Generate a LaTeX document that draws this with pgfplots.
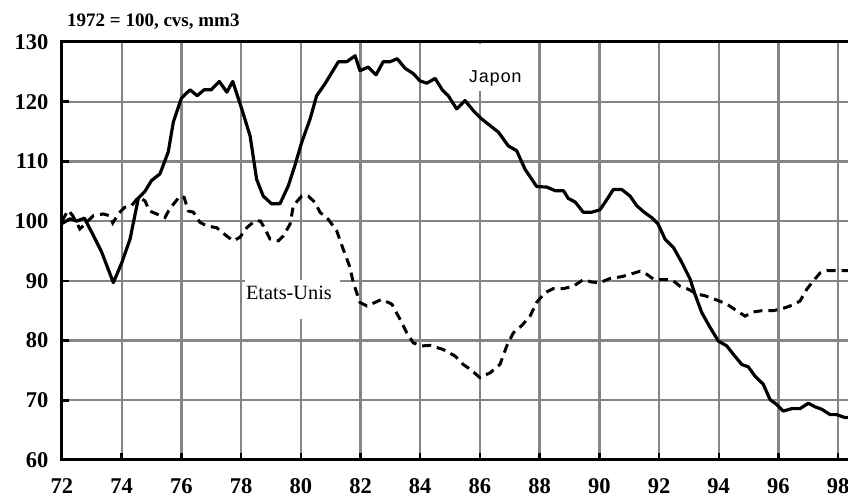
\documentclass[border=0pt]{standalone}
\usepackage{fontspec}
\setmainfont{Liberation Serif}
\newfontfamily\monofont{Liberation Mono}
\usepackage{pgfplots}
\pgfplotsset{compat=1.18}

\begin{document}
\begin{tikzpicture}
\begin{axis}[
    name=ax,
    scale only axis,
    width=786pt, height=418pt,
    xmin=72, xmax=98.33,
    ymin=60, ymax=130,
    xtick={72,74,...,98},
    ytick={60,70,...,130},
    xtick pos=bottom, ytick pos=left,
    tick align=inside,
    major tick length=7pt,
    tick style={black, line width=2.5pt},
    grid=major,
    major grid style={black!48, line width=2.4pt},
    axis line style={draw=none},
    clip=false,
    /pgf/number format/assume math mode=true,
    ticklabel style={font=\bfseries\fontsize{22.5}{22.5}\selectfont},
    yticklabel style={xshift=-10pt},
    xticklabel style={yshift=-15.5pt},
]
% Japon
\addplot[black, line width=3.2pt, line join=round] coordinates {
(72.0,99.6) (72.27,100.4) (72.49,100.0) (72.75,100.5) (73.0,98.1) (73.33,94.8)
(73.72,89.7) (74.0,93.0) (74.28,97.0) (74.56,103.9) (74.78,105.0) (75.0,106.8)
(75.28,107.9) (75.56,111.6) (75.73,116.6) (76.0,120.6) (76.29,122.0) (76.53,121.0)
(76.76,122.0) (77.0,122.0) (77.27,123.4) (77.52,121.6) (77.72,123.4) (78.02,118.8)
(78.3,114.3) (78.52,107.0) (78.74,104.2) (79.02,102.9) (79.3,102.9) (79.58,105.9)
(79.8,109.3) (80.03,113.2) (80.31,117.1) (80.53,121.0) (80.81,123.0) (81.04,124.9)
(81.26,126.7) (81.54,126.7) (81.82,127.7) (81.98,125.2) (82.26,125.8) (82.52,124.5)
(82.76,126.7) (82.99,126.7) (83.23,127.2) (83.49,125.6) (83.77,124.7) (83.99,123.5)
(84.22,123.1) (84.5,123.9) (84.75,121.9) (84.94,121.0) (85.22,118.8) (85.5,120.2)
(85.78,118.5) (86.06,117.1) (86.34,116.0) (86.62,114.9) (86.95,112.6) (87.23,111.8)
(87.51,108.7) (87.9,105.8) (88.24,105.7) (88.52,105.1) (88.8,105.1) (88.96,103.8)
(89.19,103.2) (89.46,101.5) (89.75,101.5) (90.02,101.9) (90.25,103.6) (90.47,105.3)
(90.75,105.3) (91.03,104.2) (91.25,102.6) (91.5,101.5) (91.75,100.6) (91.97,99.5)
(92.2,97.0) (92.48,95.6) (92.76,93.1) (93.04,90.3) (93.2,87.8) (93.43,84.7)
(93.71,82.2) (93.99,79.9) (94.27,79.1) (94.49,77.7) (94.77,76.0) (94.99,75.6)
(95.22,74.0) (95.49,72.7) (95.72,70.1) (95.94,69.3) (96.16,68.2) (96.45,68.6)
(96.72,68.6) (97.0,69.5) (97.23,68.9) (97.45,68.5) (97.73,67.6) (97.95,67.6)
(98.23,67.1) (98.33,67.1)
};
% Etats-Unis
\addplot[black, line width=3pt, dash pattern=on 9pt off 6pt] coordinates {
(72.0,100.0) (72.2,101.8) (72.35,101.0) (72.6,98.7) (72.83,99.8) (73.05,100.9)
(73.38,101.2) (73.6,100.9) (73.7,99.7) (73.9,101.3) (74.1,102.3) (74.33,102.6)
(74.56,104.0) (74.78,103.4) (74.93,101.7) (75.17,101.2) (75.45,100.6) (75.6,102.0)
(75.95,104.2) (76.09,104.0) (76.23,101.7) (76.4,101.5) (76.62,99.8) (76.85,99.2)
(77.18,98.9) (77.52,97.5) (77.74,96.7) (77.96,97.3) (78.19,98.9) (78.47,100.1)
(78.65,100.0) (78.8,98.7) (78.97,97.0) (79.25,96.7) (79.41,97.5) (79.64,99.5)
(79.75,102.6) (80.03,104.2) (80.25,104.2) (80.48,103.1) (80.64,101.5) (80.92,100.3)
(81.2,98.4) (81.42,95.3) (81.63,92.5) (81.76,89.7) (81.98,86.4) (82.21,85.8)
(82.49,86.4) (82.71,86.9) (83.05,86.1) (83.32,83.6) (83.55,81.3) (83.77,79.6)
(84.05,79.1) (84.33,79.2) (84.77,78.5) (85.17,77.4) (85.44,76.0) (85.67,75.2)
(86.0,73.8) (86.34,74.6) (86.67,76.0) (86.9,79.1) (87.12,81.3) (87.4,82.5)
(87.68,84.1) (87.9,86.4) (88.18,88.0) (88.46,88.7) (88.8,88.7) (89.13,89.1)
(89.46,90.2) (89.75,89.8) (90.02,89.7) (90.36,90.4) (90.75,90.7) (91.03,91.1)
(91.36,91.6) (91.59,91.1) (91.81,90.3) (92.03,90.2) (92.43,90.2) (92.7,89.1)
(92.98,88.6) (93.26,87.8) (93.54,87.5) (93.93,86.8) (94.27,86.1) (94.6,85.0)
(94.88,84.1) (95.16,84.8) (95.44,85.0) (95.83,85.0) (96.16,85.4) (96.45,85.9)
(96.72,86.6) (96.95,88.6) (97.17,90.0) (97.39,91.3) (97.62,91.7) (98.06,91.7)
(98.33,91.7)
};
% label boxes
\node[fill=white, inner sep=0pt, minimum width=58pt, minimum height=47pt, anchor=north west]
    at (axis cs:85.5,129.7) {};
\node[anchor=base, inner sep=0pt, font=\monofont\fontsize{18}{18}\selectfont]
    at (axis cs:86.5,123.3) {Japon};
\node[fill=white, inner sep=0pt, minimum width=95pt, minimum height=39pt, anchor=north west]
    at (axis cs:78.13,90.1) {};
\node[anchor=base west, inner sep=0pt, font=\fontsize{20.3}{20.3}\selectfont]
    at (axis cs:78.16,86.8) {Etats-Unis};
\end{axis}
% frame: top, left, bottom (right side lies outside the picture)
\draw[black, line width=3pt] (ax.north east) -- (ax.north west) -- (ax.south west) -- (ax.south east);
\node[anchor=base west, inner sep=0pt, font=\bfseries\fontsize{19}{19}\selectfont]
    at ([xshift=5pt, yshift=15pt]ax.north west) {1972 = 100, cvs, mm3};
\pgfresetboundingbox
\path[use as bounding box] ([xshift=-62pt, yshift=-39pt]ax.south west) rectangle ([yshift=42pt]ax.north east);
\end{tikzpicture}
\end{document}
